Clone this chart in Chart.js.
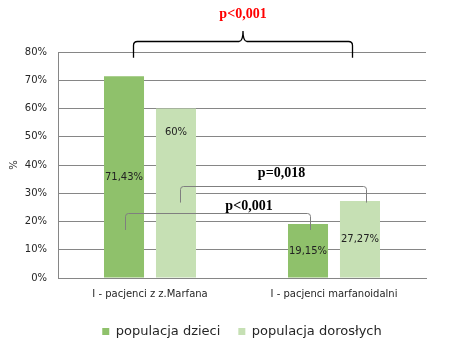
<!DOCTYPE html>
<html lang="pl">
<head>
<meta charset="utf-8">
<script src="https://cdn.jsdelivr.net/npm/chart.js@4.4.1/dist/chart.umd.min.js"></script>
<style>
  html, body { margin: 0; padding: 0; background: #ffffff; }
  #wrap { width: 454px; height: 348px; position: relative; }
</style>
</head>
<body>
<div id="wrap"><canvas id="chart"></canvas></div>
<script>
// Grupy pacjentów (kategorie osi X)
const categories = ['I - pacjenci z z.Marfana', 'I - pacjenci marfanoidalni'];
// Serie: odsetek w populacji dzieci i dorosłych
const seriesNames = ['populacja dzieci', 'populacja dorosłych'];
const childrenValues = [71.43, 19.15];
const adultValues = [60, 27.27];
// Podziałka osi Y
const yTicks = [0, 10, 20, 30, 40, 50, 60, 70, 80];
// Wysokość etykiety w słupku (ułamek wysokości słupka licząc od podstawy)
const labelAnchor = [[0.5, 0.5], [0.86, 0.5]];

// Porównania: seria, kategorie, poziomy klamry (w % osi Y) i tekst p
const comparisons = [
  { text: 'p<0,001', dataset: 0, from: 0, to: 1, endY: 17, lineY: 23.1, textY: 25.3, dx: [1, 2], textDx: 31 },
  { text: 'p=0,018', dataset: 1, from: 0, to: 1, endY: 26.7, lineY: 32.4, textY: 37, dx: [4, 6], textDx: 8 }
];
// Klamra nad oboma grupami
const topBrace = { text: 'p<0,001', endY: 78, lineY: 84, tipY: 87.4, textY: 93.2, pad: 17 };

const fmt = v => String(v).replace('.', ',') + '%';

const valueLabels = {
  id: 'valueLabels',
  afterDatasetsDraw(chart) {
    const ctx = chart.ctx;
    const yScale = chart.scales.y;
    const base = yScale.getPixelForValue(0);
    ctx.save();
    ctx.font = '10px "DejaVu Sans"';
    ctx.fillStyle = '#222222';
    ctx.textAlign = 'center';
    ctx.textBaseline = 'middle';
    chart.data.datasets.forEach((ds, di) => {
      chart.getDatasetMeta(di).data.forEach((bar, i) => {
        const f = labelAnchor[di][i];
        const y = base - (base - bar.y) * f;
        ctx.fillText(fmt(ds.data[i]), bar.x, y);
      });
    });
    ctx.restore();
  }
};

const brackets = {
  id: 'brackets',
  afterDatasetsDraw(chart) {
    const ctx = chart.ctx;
    const y = chart.scales.y;
    const x = chart.scales.x;
    ctx.save();
    // Klamry porównań między grupami
    comparisons.forEach(c => {
      const meta = chart.getDatasetMeta(c.dataset);
      const x1 = Math.round(meta.data[c.from].x + c.dx[0]) + 0.5;
      const x2 = Math.round(meta.data[c.to].x + c.dx[1]) + 0.5;
      const yl = Math.round(y.getPixelForValue(c.lineY)) + 0.5;
      const ye = y.getPixelForValue(c.endY);
      const r = 3;
      ctx.strokeStyle = '#7f7f7f';
      ctx.lineWidth = 1;
      ctx.beginPath();
      ctx.moveTo(x1, ye);
      ctx.lineTo(x1, yl + r);
      ctx.quadraticCurveTo(x1, yl, x1 + r, yl);
      ctx.lineTo(x2 - r, yl);
      ctx.quadraticCurveTo(x2, yl, x2, yl + r);
      ctx.lineTo(x2, ye);
      ctx.stroke();
      ctx.font = 'bold 14px "Liberation Serif"';
      ctx.fillStyle = '#000000';
      ctx.textAlign = 'center';
      ctx.textBaseline = 'middle';
      ctx.fillText(c.text, (x1 + x2) / 2 + c.textDx, y.getPixelForValue(c.textY));
    });

    // Klamra klasyczna nad całym wykresem
    const bx1 = x.getPixelForValue(0) - topBrace.pad + 0.5;
    const bx2 = x.getPixelForValue(1) + topBrace.pad + 1.5;
    const mx = (bx1 + bx2) / 2;
    const yl = Math.round(y.getPixelForValue(topBrace.lineY)) + 0.5;
    const ye = y.getPixelForValue(topBrace.endY);
    const yt = y.getPixelForValue(topBrace.tipY);
    const r = 4;
    ctx.strokeStyle = '#000000';
    ctx.lineWidth = 1.3;
    ctx.beginPath();
    ctx.moveTo(bx1, ye);
    ctx.lineTo(bx1, yl + r);
    ctx.quadraticCurveTo(bx1, yl, bx1 + r, yl);
    ctx.lineTo(mx - r, yl);
    ctx.quadraticCurveTo(mx, yl, mx, yt);
    ctx.quadraticCurveTo(mx, yl, mx + r, yl);
    ctx.lineTo(bx2 - r, yl);
    ctx.quadraticCurveTo(bx2, yl, bx2, yl + r);
    ctx.lineTo(bx2, ye);
    ctx.stroke();
    ctx.font = 'bold 14px "Liberation Serif"';
    ctx.fillStyle = '#ff0000';
    ctx.textAlign = 'center';
    ctx.textBaseline = 'middle';
    ctx.fillText(topBrace.text, mx, y.getPixelForValue(topBrace.textY));
    ctx.restore();
  }
};

// Legenda wyśrodkowana względem obszaru wykresu
const legendShift = {
  id: 'legendShift',
  afterLayout(chart) {
    const lg = chart.legend;
    const area = chart.chartArea;
    const shift = (area.left + area.right) / 2 - (lg.left + lg.right) / 2;
    lg.left += shift;
    lg.right += shift;
  }
};

new Chart(document.getElementById('chart'), {
  type: 'bar',
  data: {
    labels: categories,
    datasets: [
      { label: seriesNames[0], data: childrenValues, backgroundColor: '#8fc16b' },
      { label: seriesNames[1], data: adultValues, backgroundColor: '#c6e0b4' }
    ]
  },
  options: {
    responsive: true,
    maintainAspectRatio: false,
    animation: false,
    devicePixelRatio: 1,
    layout: { padding: { top: 52, right: 28, left: 0, bottom: 0 } },
    datasets: { bar: { categoryPercentage: 0.565, barPercentage: 0.77 } },
    plugins: {
      tooltip: { enabled: false },
      legend: {
        position: 'bottom',
        labels: {
          boxWidth: 7,
          boxHeight: 7,
          padding: 18,
          color: '#262626',
          font: { family: 'DejaVu Sans', size: 13 }
        }
      }
    },
    scales: {
      x: {
        grid: { display: false, drawTicks: false },
        border: { display: true, color: '#868686' },
        ticks: { color: '#262626', padding: 10, font: { family: 'DejaVu Sans', size: 10 } },
        afterFit: s => { s.height = 29; }
      },
      y: {
        min: 0,
        max: 80,
        afterBuildTicks: s => { s.ticks = yTicks.map(v => ({ value: v })); },
        grid: { color: '#868686', drawTicks: false },
        border: { display: true, color: '#868686' },
        ticks: {
          color: '#262626',
          padding: 11,
          font: { family: 'DejaVu Sans', size: 10 },
          callback: v => v + '%'
        },
        title: {
          display: true,
          text: '%',
          color: '#262626',
          font: { family: 'DejaVu Sans', size: 10 },
          padding: { top: 8, bottom: 0 }
        },
        afterFit: s => { s.width = 58; }
      }
    }
  },
  plugins: [valueLabels, brackets, legendShift]
});
</script>
</body>
</html>
